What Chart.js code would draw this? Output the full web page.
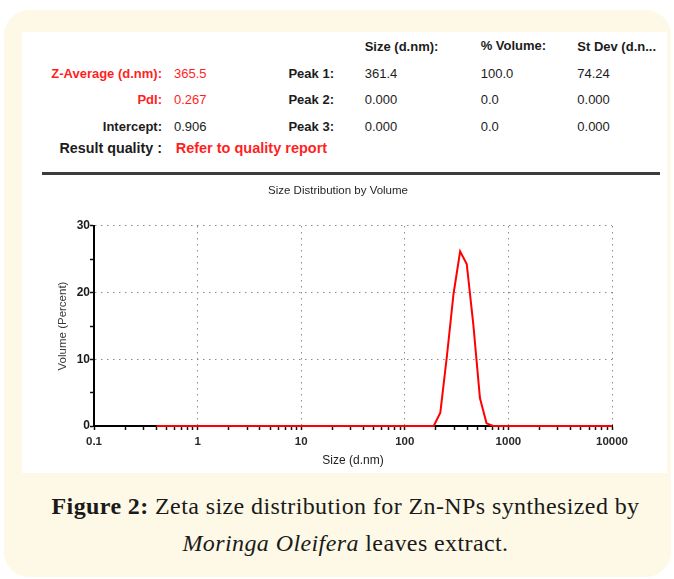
<!DOCTYPE html>
<html>
<head>
<meta charset="utf-8">
<script src="https://cdn.jsdelivr.net/npm/chart.js@4.4.0/dist/chart.umd.min.js"></script>
<style>
  html, body { margin: 0; padding: 0; background: #ffffff; width: 674px; height: 579px; overflow: hidden; }
  #panel { position: absolute; left: 4px; top: 10px; width: 667px; height: 567px; border-radius: 25px; background: #fdf9e6; }
  #card { position: absolute; left: 22px; top: 32px; width: 645px; height: 441px; background: #ffffff; }
  .t { position: absolute; line-height: 1; white-space: nowrap; font-family: 'Liberation Sans', Arial, sans-serif; font-size: 13px; color: #1c1c1c; }
  .b { font-weight: bold; }
  .r { transform: translateX(-100%); }
  .red { color: #ff1f1f; }
  #rule { position: absolute; left: 42px; top: 172px; width: 618px; height: 3px; background: #3c3c3c; }
  #chartWrap { position: absolute; left: 22px; top: 178px; width: 645px; height: 295px; }
  #caption { position: absolute; left: 17px; width: 657px; top: 488px; text-align: center; font-family: 'Liberation Serif', 'Times New Roman', serif; font-size: 24px; line-height: 37px; letter-spacing: 0.4px; color: #1a1a1a; }
</style>
</head>
<body>
<div id="panel"></div>
<div id="card"></div>

<div class="t b" style="left:364.7px; top:39.5px;">Size (d.nm):</div>
<div class="t b" style="left:480.7px; top:39px;">% Volume:</div>
<div class="t b" style="left:577.3px; top:39.5px;">St Dev (d.n...</div>

<div class="t b r red" style="left:162px; top:67px;">Z-Average (d.nm):</div>
<div class="t red" style="left:174px; top:67px;">365.5</div>
<div class="t b r" style="left:334px; top:67px;">Peak 1:</div>
<div class="t" style="left:364.7px; top:67px;">361.4</div>
<div class="t" style="left:480.7px; top:67px;">100.0</div>
<div class="t" style="left:577.3px; top:67px;">74.24</div>

<div class="t b r red" style="left:162px; top:93.2px;">PdI:</div>
<div class="t red" style="left:174px; top:93.2px;">0.267</div>
<div class="t b r" style="left:334px; top:93.2px;">Peak 2:</div>
<div class="t" style="left:364.7px; top:93.2px;">0.000</div>
<div class="t" style="left:480.7px; top:93.2px;">0.0</div>
<div class="t" style="left:577.3px; top:93.2px;">0.000</div>

<div class="t b r" style="left:162px; top:119.5px;">Intercept:</div>
<div class="t" style="left:174px; top:119.5px;">0.906</div>
<div class="t b r" style="left:334px; top:119.5px;">Peak 3:</div>
<div class="t" style="left:364.7px; top:119.5px;">0.000</div>
<div class="t" style="left:480.7px; top:119.5px;">0.0</div>
<div class="t" style="left:577.3px; top:119.5px;">0.000</div>

<div class="t b r" style="left:162px; top:141px; font-size:14.3px;">Result quality :</div>
<div class="t b red" style="left:175.7px; top:140.8px; font-size:14.5px;">Refer to quality report</div>

<div id="rule"></div>

<div id="chartWrap"><canvas id="c" width="645" height="295"></canvas></div>

<div id="caption"><b>Figure 2:</b> Zeta size distribution for Zn-NPs synthesized by<br><i>Moringa Oleifera</i> leaves extract.</div>

<script>
// ---- data ----
const sizes = [
  0.4, 0.4632, 0.5365, 0.6213, 0.7195, 0.8332, 0.9649, 1.117, 1.294, 1.499,
  1.736, 2.01, 2.328, 2.696, 3.122, 3.615, 4.187, 4.849, 5.615, 6.503,
  7.531, 8.721, 10.1, 11.7, 13.54, 15.69, 18.17, 21.04, 24.36, 28.21,
  32.67, 37.84, 43.82, 50.75, 58.77, 68.06, 78.82, 91.28, 105.7, 122.4,
  141.8, 164.2, 190.1, 220.2, 255, 295.3, 342, 396.1, 458.7, 531.2,
  615.1, 712.4, 825, 955.4, 1106, 1281, 1484, 1718, 1990, 2305,
  2669, 3091, 3580, 4145, 4801, 5560, 6439, 7456, 8635, 10000
];
const volumes = [
  0, 0, 0, 0, 0, 0, 0, 0, 0, 0,
  0, 0, 0, 0, 0, 0, 0, 0, 0, 0,
  0, 0, 0, 0, 0, 0, 0, 0, 0, 0,
  0, 0, 0, 0, 0, 0, 0, 0, 0, 0,
  0, 0, 0, 2.0, 10.5, 19.8, 26.2, 24.3, 15.2, 4.2,
  0.4, 0, 0, 0, 0, 0, 0, 0, 0, 0,
  0, 0, 0, 0, 0, 0, 0, 0, 0, 0
];
const xMajorTicks = [0.1, 1, 10, 100, 1000, 10000];
const xTickLabels = ['0.1', '1', '10', '100', '1000', '10000'];
const yMajorTicks = [0, 10, 20, 30];
const yTickLabels = ['0', '10', '20', '30'];

const chartTitle = 'Size Distribution by Volume';
const xTitle = 'Size (d.nm)';
const yTitle = 'Volume (Percent)';

// ---- helpers ----
const FONT = "'Liberation Sans', Arial, sans-serif";
const near = (a, b) => Math.abs(a - b) <= 1e-9 * Math.max(1, Math.abs(b));
const xMajorIndex = v => xMajorTicks.findIndex(m => near(v, m));
const xAllTicks = [];
xMajorTicks.forEach((m, i) => {
  if (i === xMajorTicks.length - 1) { xAllTicks.push(m); return; }
  for (let k = 1; k <= 9; k++) xAllTicks.push(Math.round(m * k * 1e6) / 1e6);
});

const gridGrey = '#8c8c8c';

new Chart(document.getElementById('c'), {
  type: 'line',
  data: {
    datasets: [{
      data: sizes.map((s, i) => ({ x: s, y: volumes[i] })),
      borderColor: '#ff0000',
      borderWidth: 2,
      pointRadius: 0,
      tension: 0,
      fill: false,
      clip: false
    }]
  },
  options: {
    responsive: false,
    animation: false,
    devicePixelRatio: 1,
    layout: { padding: { left: 42, right: 55, top: 0, bottom: 0 } },
    plugins: {
      legend: { display: false },
      tooltip: { enabled: false },
      title: {
        display: true,
        text: chartTitle,
        color: '#262626',
        font: { family: FONT, size: 11.5, weight: 'normal', lineHeight: 1.2 },
        padding: { top: 5.8, bottom: 28.4 }
      }
    },
    scales: {
      x: {
        type: 'logarithmic',
        min: 0.1,
        max: 10000,
        afterBuildTicks: s => { s.ticks = xAllTicks.map(v => ({ value: v })); },
        afterFit: s => { s.height = 47; s.paddingLeft = 0; s.paddingRight = 0; },
        ticks: {
          autoSkip: false,
          maxRotation: 0,
          minRotation: 0,
          padding: 5,
          color: '#2a2a2a',
          font: { family: FONT, size: 11.5, weight: 'bold' },
          callback: v => { const i = xMajorIndex(v); return i >= 0 ? xTickLabels[i] : ''; }
        },
        grid: {
          drawTicks: true,
          tickLength: 4,
          tickWidth: 1.5,
          tickColor: '#111',
          tickBorderDash: [],
          lineWidth: 1,
          color: c => (c.tick && xMajorIndex(c.tick.value) > 0) ? gridGrey : 'rgba(0,0,0,0)'
        },
        border: { display: true, color: '#000', width: 2, dash: [1.5, 4.5] },
        title: {
          display: true,
          text: xTitle,
          color: '#222',
          font: { family: FONT, size: 12, lineHeight: 1.2 },
          padding: { top: 0, bottom: 4.8 }
        }
      },
      y: {
        min: 0,
        max: 30,
        afterBuildTicks: s => { s.ticks = [0, 5, 10, 15, 20, 25, 30].map(v => ({ value: v })); },
        afterFit: s => { s.width = 30; s.paddingTop = 0; s.paddingBottom = 0; },
        ticks: {
          padding: 0,
          color: '#1a1a1a',
          font: { family: FONT, size: 12, weight: 'bold' },
          callback: v => { const i = yMajorTicks.indexOf(v); return i >= 0 ? yTickLabels[i] : ''; }
        },
        grid: {
          drawTicks: true,
          tickLength: 4,
          tickWidth: 1.5,
          tickColor: '#111',
          tickBorderDash: [],
          lineWidth: 1,
          color: c => (c.tick && c.tick.value > 0 && yMajorTicks.includes(c.tick.value)) ? gridGrey : 'rgba(0,0,0,0)'
        },
        border: { display: true, color: '#000', width: 2, dash: [1.5, 4.5] },
        title: {
          display: true,
          text: yTitle,
          color: '#3a3a3a',
          font: { family: FONT, size: 11.5, lineHeight: 1.2 },
          padding: { top: -7.9, bottom: 0 }
        }
      }
    }
  }
});
</script>
</body>
</html>
